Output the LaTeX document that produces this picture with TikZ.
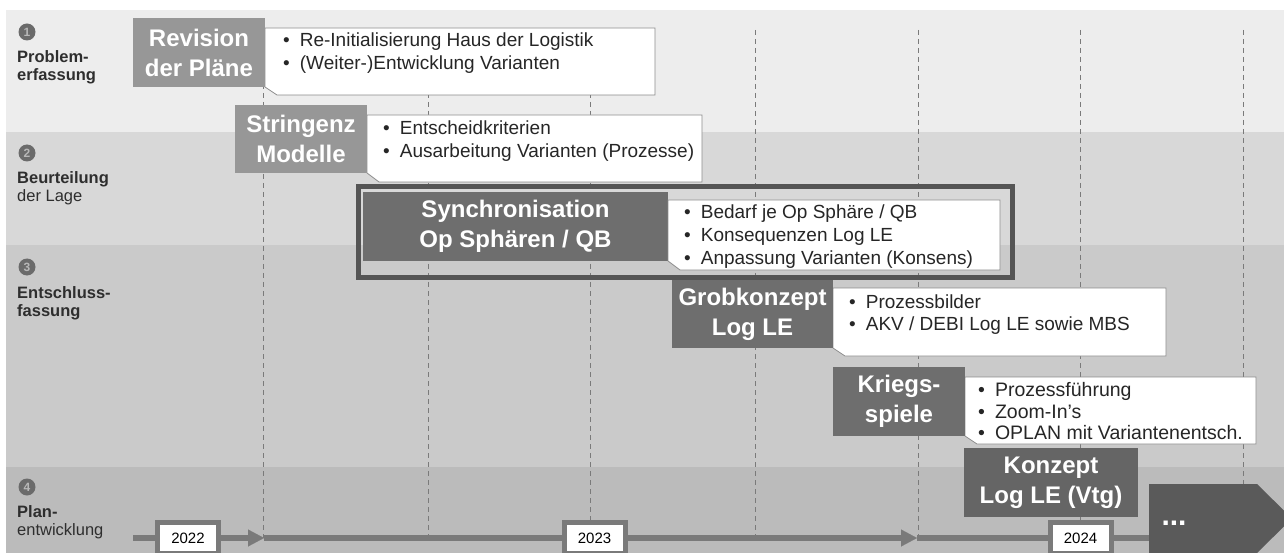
\documentclass[tikz,border=0pt]{standalone}
\usepackage{fontspec}
\setmainfont{Liberation Sans}
\usetikzlibrary{arrows.meta}

\definecolor{bandA}{HTML}{EDEDED}
\definecolor{bandB}{HTML}{D8D8D8}
\definecolor{bandC}{HTML}{CACACA}
\definecolor{bandD}{HTML}{BBBBBB}
\definecolor{boxlight}{HTML}{979797}
\definecolor{boxdark}{HTML}{6E6E6E}
\definecolor{moregray}{HTML}{5A5A5A}
\definecolor{framegray}{HTML}{555555}
\definecolor{linegray}{HTML}{7A7A7A}
\definecolor{labelgray}{HTML}{2E2E2E}

\begin{document}
\begin{tikzpicture}[x=1pt, y=-1pt]

    \tikzstyle{phase number} = [circle, fill=black!58, text=black!28, inner sep=0pt, minimum size=17pt, font=\bfseries\fontsize{12}{12}\selectfont];
    \tikzstyle{phase label} = [anchor=north west, align=left, inner sep=0pt, text=labelgray, font=\fontsize{16.5}{18.5}\selectfont];
    \tikzstyle{phase box} = [rectangle, fill=boxdark, text=white, align=center, inner sep=0pt, font=\bfseries\fontsize{24}{30}\selectfont];
    \tikzstyle{callout} = [fill=white, draw=black!45, line width=0.8pt];
    \tikzstyle{bullets} = [anchor=west, align=left, inner sep=0pt, text=black!85, font=\fontsize{19}{22.5}\selectfont];
    \tikzstyle{grid line} = [draw=linegray, line width=0.8pt, dash pattern=on 5pt off 4pt];
    \tikzstyle{timeline} = [draw=linegray, line width=6pt];
    \tikzstyle{year} = [rectangle, draw=linegray, line width=5pt, fill=white, minimum width=61pt, minimum height=31pt, inner sep=0pt, font=\fontsize{15}{15}\selectfont];

    \useasboundingbox (0,0) rectangle (1284,553);

    % Bands
    \fill[white] (0,0) rectangle (1284,553);
    \fill[bandA] (6,10) rectangle (1284,132);
    \fill[bandB] (6,132) rectangle (1284,245);
    \fill[bandC] (6,245) rectangle (1284,467);
    \fill[bandD] (6,467) rectangle (1284,553);

    % Grid
    \foreach \x in {263,428,590,755,918,1080,1243}
        \draw[grid line] (\x,30) -- (\x,538);

    % Phase labels
    \node[phase number] (n1) at (27,32) {1};
    \node[phase label] (l1) at (17,50) {\textbf{Problem-}\\\textbf{erfassung}};
    \node[phase number] (n2) at (27,153) {2};
    \node[phase label] (l2) at (17,171) {\textbf{Beurteilung}\\der Lage};
    \node[phase number] (n3) at (27,267) {3};
    \node[phase label] (l3) at (17,286) {\textbf{Entschluss-}\\\textbf{fassung}};
    \node[phase number] (n4) at (27,487) {4};
    \node[phase label] (l4) at (17,505) {\textbf{Plan-}\\entwicklung};

    % Revision
    \filldraw[callout] (265,28) -- (655,28) -- (655,95) -- (277,95) -- (265,87) -- cycle;
    \node[phase box, fill=boxlight, minimum width=132pt, minimum height=69pt] (rev) at (199,52.5) {Revision\\der Pläne};
    \node[bullets] (revtext) at (283,53)
        {\textbullet\hspace{10pt}Re-Initialisierung Haus der Logistik\\
         \textbullet\hspace{10pt}(Weiter-)Entwicklung Varianten};

    % Stringenz
    \filldraw[callout] (367,115) -- (702,115) -- (702,182) -- (379,182) -- (367,173) -- cycle;
    \node[phase box, fill=boxlight, minimum width=132pt, minimum height=68pt] (str) at (301,139) {Stringenz\\Modelle};
    \node[bullets] (strtext) at (383,141)
        {\textbullet\hspace{10pt}Entscheidkriterien\\
         \textbullet\hspace{10pt}Ausarbeitung Varianten (Prozesse)};

    % Synchronisation
    \node[draw=framegray, line width=5pt, minimum width=654pt, minimum height=90pt, inner sep=0pt] (frame) at (685,232) {};
    \node[phase box, minimum width=305pt, minimum height=69pt] (sync) at (515.5,226.5) {Synchronisation\\Op Sphären / QB};
    \filldraw[callout] (668,200) -- (1000,200) -- (1000,270) -- (680,270) -- (668,261) -- cycle;
    \node[bullets, font=\fontsize{19}{23}\selectfont] (synctext) at (684,237)
        {\textbullet\hspace{10pt}Bedarf je Op Sphäre / QB\\
         \textbullet\hspace{10pt}Konsequenzen Log LE\\
         \textbullet\hspace{10pt}Anpassung Varianten (Konsens)};

    % Grobkonzept
    \filldraw[callout] (833,288) -- (1166,288) -- (1166,356) -- (845,356) -- (833,348) -- cycle;
    \node[phase box, minimum width=161pt, minimum height=68pt] (grob) at (752.5,314) {Grobkonzept\\Log LE};
    \node[bullets] (grobtext) at (849,314.5)
        {\textbullet\hspace{10pt}Prozessbilder\\
         \textbullet\hspace{10pt}AKV / DEBI Log LE sowie MBS};

    % Kriegsspiele
    \filldraw[callout] (965,377) -- (1256,377) -- (1256,444) -- (977,444) -- (965,436) -- cycle;
    \node[phase box, minimum width=132pt, minimum height=69pt] (krieg) at (899,401.5) {Kriegs-\\spiele};
    \node[bullets, font=\fontsize{19.5}{21.5}\selectfont] (kriegtext) at (978,411.5)
        {\textbullet\hspace{10pt}Prozessführung\\
         \textbullet\hspace{10pt}Zoom-In's\\
         \textbullet\hspace{10pt}OPLAN mit Variantenentsch.};

    % Konzept
    \node[phase box, fill=boxdark!92!black, minimum width=174pt, minimum height=69pt] (konz) at (1051,482.5) {Konzept\\Log LE (Vtg)};

    % Ausblick
    \fill[moregray] (1149,484) -- (1257,484) -- (1292,518.5) -- (1257,553) -- (1149,553) -- cycle;
    \coordinate (more) at (1149,538);
    \node[text=white, inner sep=0pt, font=\bfseries\fontsize{30}{30}\selectfont] (dots) at (1174,523) {...};

    % Timeline
    \coordinate (tl0) at (133,538);
    \coordinate (tick1) at (264,538);
    \coordinate (tick2) at (917,538);
    \node[year] (y2022) at (188,538) {2022};
    \node[year] (y2023) at (594.5,538) {2023};
    \node[year] (y2024) at (1080.5,538) {2024};

    \draw[timeline] (tl0) -- (y2022);
    \draw[timeline, -{Triangle[length=16pt, width=17pt, line width=0.1pt]}] (y2022) -- (tick1);
    \draw[timeline] (tick1) -- (y2023);
    \draw[timeline, -{Triangle[length=16pt, width=17pt, line width=0.1pt]}] (y2023) -- (tick2);
    \draw[timeline] (tick2) -- (y2024);
    \draw[timeline] (y2024) -- (more);

\end{tikzpicture}
\end{document}
